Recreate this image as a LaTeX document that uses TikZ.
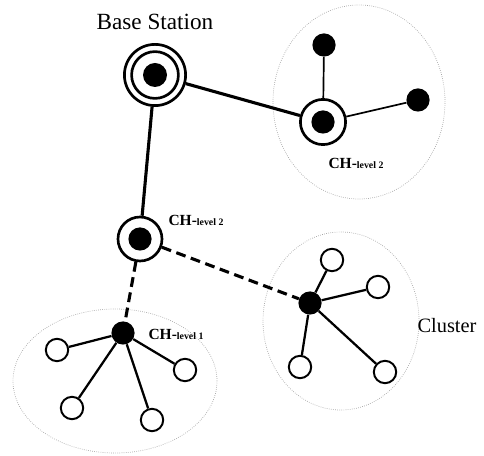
\documentclass[tikz,border=0pt]{standalone}
\usepackage{fontspec}
\setmainfont{Liberation Serif}
\usepackage{xcolor}
\usetikzlibrary{positioning}

\begin{document}
\begin{tikzpicture}[
    ring/.style={circle, draw, line width=1.9pt, fill=white, inner sep=0pt},
    dot/.style={circle, fill=black, inner sep=0pt, minimum size=0.58cm},
    leaf/.style={circle, draw, line width=1.4pt, fill=white, inner sep=0pt, minimum size=0.56cm},
    cluster/.style={draw=gray!70, densely dotted, line width=0.5pt},
    link/.style={line width=2.2pt},
    chlabel/.style={font=\bfseries\fontsize{11}{13}\selectfont}
  ]
  \useasboundingbox (0,0) rectangle (12.1,11.375);

  % Cluster (ellissi)
  \draw[cluster] (8.975,8.825) ellipse (2.15 and 2.425);
  \draw[cluster] (2.875,1.85) ellipse (2.55 and 1.8);
  \draw[cluster] (8.525,3.35) ellipse (1.95 and 2.225);

  % Stazione base
  \node[ring, minimum size=1.53cm] (bs) at (3.875,9.5) {};
  \node[font=\fontsize{16.5}{18}\selectfont, above=0.2cm of bs] (bslabel) {Base Station};

  % Cluster head
  \node[ring, minimum size=1.13cm] (chtop) at (8.075,8.325) {};
  \node[ring, minimum size=1.10cm] (chmid) at (3.5,5.4) {};
  \node[dot] (chone) at (3.075,3.05) {};
  \node[dot] (chtwo) at (7.75,3.8) {};

  % Nodi del cluster in alto
  \node[dot] (na) at (8.1,10.25) {};
  \node[dot] (nb) at (10.45,8.875) {};

  % Nodi del cluster in basso a sinistra
  \node[leaf] (la) at (1.425,2.625) {};
  \node[leaf] (lb) at (4.625,2.125) {};
  \node[leaf] (lc) at (1.8,1.175) {};
  \node[leaf] (ld) at (3.8,0.875) {};

  % Nodi del cluster a destra
  \node[leaf] (ra) at (8.3,4.875) {};
  \node[leaf] (rb) at (9.45,4.2) {};
  \node[leaf] (rc) at (7.5,2.2) {};
  \node[leaf] (rd) at (9.625,2.075) {};

  % Collegamenti
  \draw[link] (bs) -- (chtop);
  \draw[link] (bs) -- (chmid);
  \draw[line width=1.2pt] (chtop) -- (na);
  \draw[line width=1.2pt] (chtop) -- (nb);
  \draw[link, dashed, dash pattern=on 7pt off 4pt] (chmid) -- (chone);
  \draw[link, dashed, dash pattern=on 7pt off 4pt] (chmid) -- (chtwo);

  \foreach \n in {la,lb,lc,ld}
    \draw[line width=1.6pt] (chone) -- (\n);
  \foreach \n in {ra,rb,rc,rd}
    \draw[line width=1.6pt] (chtwo) -- (\n);

  % Anelli interni e punti centrali
  \node[ring, minimum size=1.17cm] (bsin) at (bs) {};
  \node[dot, minimum size=0.6cm] (bsdot) at (bs) {};
  \node[dot] (chtopdot) at (chtop) {};
  \node[dot] (chmiddot) at (chmid) {};

  % Etichette
  \node[chlabel] (labtop) at (8.9,7.3) {CH-{\fontsize{7}{8}\selectfont level 2}};
  \node[chlabel] (labmid) at (4.9,5.875) {CH-{\fontsize{7}{8}\selectfont level 2}};
  \node[chlabel] (labone) at (4.4,3.025) {CH-{\fontsize{7}{8}\selectfont level 1}};
  \node[font=\fontsize{14.5}{16}\selectfont] (labcluster) at (11.175,3.225) {Cluster};
\end{tikzpicture}
\end{document}
